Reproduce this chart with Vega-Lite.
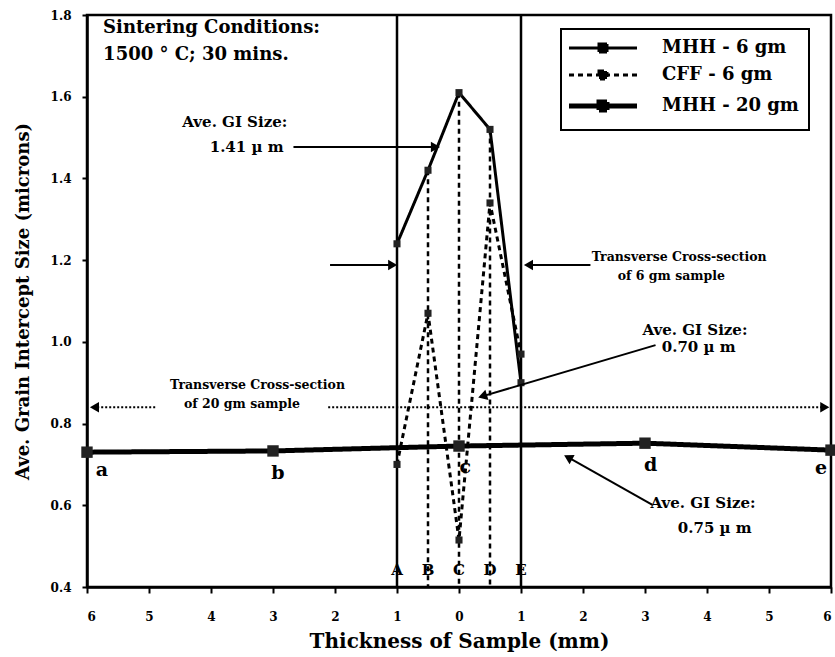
{
  "$schema": "https://vega.github.io/schema/vega-lite/v6.json",
  "width": 744,
  "height": 572,
  "autosize": {"type": "none"},
  "padding": {"left": 87, "top": 15, "right": 4, "bottom": 70},
  "background": "white",
  "config": {
    "view": {"stroke": "black", "strokeWidth": 2.5},
    "font": "DejaVu Serif",
    "legend": {"strokeWidth": 2}
  },
  "datasets": {
    "series": [
      {"series": "MHH - 6 gm", "x": -1, "y": 1.24},
      {"series": "MHH - 6 gm", "x": -0.5, "y": 1.42},
      {"series": "MHH - 6 gm", "x": 0, "y": 1.61},
      {"series": "MHH - 6 gm", "x": 0.5, "y": 1.52},
      {"series": "MHH - 6 gm", "x": 1, "y": 0.9},
      {"series": "CFF - 6 gm", "x": -1, "y": 0.7},
      {"series": "CFF - 6 gm", "x": -0.5, "y": 1.07},
      {"series": "CFF - 6 gm", "x": 0, "y": 0.515},
      {"series": "CFF - 6 gm", "x": 0.5, "y": 1.34},
      {"series": "CFF - 6 gm", "x": 1, "y": 0.97},
      {"series": "MHH - 20 gm", "x": -6, "y": 0.73},
      {"series": "MHH - 20 gm", "x": -3, "y": 0.733},
      {"series": "MHH - 20 gm", "x": 0, "y": 0.745},
      {"series": "MHH - 20 gm", "x": 3, "y": 0.752},
      {"series": "MHH - 20 gm", "x": 6, "y": 0.735}
    ],
    "bounds": [{"x": -1, "y": 1.8}, {"x": 1, "y": 1.8}],
    "drops": [{"x": -0.5, "y": 1.42}, {"x": 0, "y": 1.61}, {"x": 0.5, "y": 1.52}],
    "bigText": [
      {"x": -5.74, "y": 1.768, "t": "Sintering Conditions:"},
      {"x": -5.74, "y": 1.702, "t": "1500 ° C; 30 mins."}
    ],
    "aveRight": [
      {"x": -2.77, "y": 1.538, "t": "Ave. GI Size:"},
      {"x": -2.83, "y": 1.477, "t": "1.41 µ m"}
    ],
    "aveLeft": [
      {"x": 2.96, "y": 1.029, "t": "Ave. GI Size:"},
      {"x": 3.27, "y": 0.987, "t": "0.70 µ m"},
      {"x": 3.09, "y": 0.606, "t": "Ave. GI Size:"},
      {"x": 3.53, "y": 0.544, "t": "0.75 µ m"}
    ],
    "smallLeft": [
      {"x": 2.14, "y": 1.208, "t": "Transverse Cross-section"},
      {"x": 2.56, "y": 1.161, "t": "of 6 gm sample"}
    ],
    "smallCenter": [
      {"x": -3.25, "y": 0.894, "t": "Transverse Cross-section"},
      {"x": -3.5, "y": 0.848, "t": "of 20 gm sample"}
    ],
    "lower": [
      {"x": -5.76, "y": 0.686, "t": "a"},
      {"x": -2.92, "y": 0.679, "t": "b"},
      {"x": 0.1, "y": 0.694, "t": "c"},
      {"x": 3.09, "y": 0.699, "t": "d"},
      {"x": 5.84, "y": 0.691, "t": "e"}
    ],
    "upper": [
      {"x": -1, "y": 0.442, "t": "A"},
      {"x": -0.5, "y": 0.442, "t": "B"},
      {"x": 0, "y": 0.442, "t": "C"},
      {"x": 0.5, "y": 0.442, "t": "D"},
      {"x": 1, "y": 0.442, "t": "E"}
    ],
    "solidArrows": [
      {"x": -2.67, "y": 1.477, "x2": -0.35, "y2": 1.477},
      {"x": -2.08, "y": 1.188, "x2": -1.05, "y2": 1.188},
      {"x": 2.12, "y": 1.188, "x2": 1.1, "y2": 1.188},
      {"x": 3.17, "y": 0.992, "x2": 0.36, "y2": 0.866},
      {"x": 3.12, "y": 0.601, "x2": 1.74, "y2": 0.719}
    ],
    "dottedArrows": [
      {"x": -4.9, "y": 0.84, "x2": -5.9, "y2": 0.84},
      {"x": -2.11, "y": 0.84, "x2": 5.9, "y2": 0.84}
    ],
    "headsRight": [
      {"x": -0.38, "y": 1.477},
      {"x": -1.07, "y": 1.188},
      {"x": 5.9, "y": 0.84}
    ],
    "headsLeft": [
      {"x": 1.12, "y": 1.188},
      {"x": -5.88, "y": 0.84}
    ],
    "head070": [{"x": 0.38, "y": 0.867}],
    "head075": [{"x": 1.76, "y": 0.717}]
  },
  "encoding": {
    "x": {
      "field": "x", "type": "quantitative",
      "scale": {"domain": [-6, 6], "nice": false},
      "axis": {
        "title": "Thickness of Sample (mm)",
        "values": [-6, -5, -4, -3, -2, -1, 0, 1, 2, 3, 4, 5, 6],
        "labelExpr": "abs(datum.value)",
        "grid": false,
        "tickSize": 6, "tickWidth": 2, "tickColor": "black",
        "domainColor": "black", "domainWidth": 2.5,
        "labelFont": "DejaVu Serif", "labelFontWeight": "bold", "labelFontSize": 12, "labelColor": "black", "labelPadding": 18,
        "titleFont": "DejaVu Serif", "titleFontWeight": "bold", "titleFontSize": 20, "titleColor": "black", "titlePadding": 9
      }
    },
    "y": {
      "field": "y", "type": "quantitative",
      "scale": {"domain": [0.4, 1.8], "nice": false, "zero": false},
      "axis": {
        "title": "Ave. Grain Intercept Size (microns)",
        "values": [0.4, 0.6, 0.8, 1.0, 1.2, 1.4, 1.6, 1.8],
        "format": ".1f",
        "grid": false,
        "tickSize": 5, "tickWidth": 2, "tickColor": "black",
        "domainColor": "black", "domainWidth": 2.5,
        "labelFont": "DejaVu Serif", "labelFontWeight": "bold", "labelFontSize": 12, "labelColor": "black", "labelPadding": 11,
        "titleFont": "DejaVu Serif", "titleFontWeight": "bold", "titleFontSize": 18, "titleColor": "black", "titlePadding": 18
      }
    }
  },
  "layer": [
    {
      "data": {"name": "bounds"},
      "mark": {"type": "rule", "color": "black", "strokeWidth": 2.5},
      "encoding": {
        "y2": {"datum": 0.4}
      }
    },
    {
      "data": {"name": "drops"},
      "mark": {"type": "rule", "color": "black", "strokeWidth": 2.5, "strokeDash": [5, 4]},
      "encoding": {
        "y2": {"datum": 0.4}
      }
    },
    {
      "data": {"name": "series"},
      "mark": {"type": "line", "color": "black"},
      "encoding": {
        "strokeDash": {
          "field": "series", "type": "nominal",
          "scale": {"domain": ["MHH - 6 gm", "CFF - 6 gm", "MHH - 20 gm"], "range": [[1, 0], [5, 4], [1, 0]]},
          "legend": {
            "title": null, "orient": "none", "legendX": 474, "legendY": 14,
            "strokeColor": "black", "padding": 10,
            "symbolType": "M-6.8,0H6.8M-0.8,-0.8H0.8V0.8H-0.8Z",
            "symbolSize": 100, "symbolOffset": 23, "symbolFillColor": "black", "symbolStrokeColor": "black",
            "labelOffset": 50, "labelFont": "DejaVu Serif", "labelFontWeight": "bold", "labelFontSize": 18, "labelColor": "black",
            "rowPadding": 7
          }
        },
        "strokeWidth": {
          "field": "series", "type": "ordinal",
          "scale": {"type": "ordinal", "domain": ["MHH - 6 gm", "CFF - 6 gm", "MHH - 20 gm"], "range": [3, 3, 5]},
          "legend": {
            "title": null, "orient": "none", "legendX": 474, "legendY": 14,
            "strokeColor": "black", "padding": 10,
            "symbolType": "M-6.8,0H6.8M-0.8,-0.8H0.8V0.8H-0.8Z",
            "symbolSize": 100, "symbolOffset": 23, "symbolFillColor": "black", "symbolStrokeColor": "black",
            "labelOffset": 50, "labelFont": "DejaVu Serif", "labelFontWeight": "bold", "labelFontSize": 18, "labelColor": "black",
            "rowPadding": 7
          }
        }
      }
    },
    {
      "data": {"name": "series"},
      "transform": [{"filter": "datum.series != 'MHH - 20 gm'"}],
      "mark": {"type": "point", "shape": "square", "filled": true, "color": "#222", "size": 50, "opacity": 1}
    },
    {
      "data": {"name": "series"},
      "transform": [{"filter": "datum.series == 'MHH - 20 gm'"}],
      "mark": {"type": "point", "shape": "square", "filled": true, "color": "#222", "size": 130, "opacity": 1}
    },
    {
      "data": {"name": "solidArrows"},
      "mark": {"type": "rule", "color": "black", "strokeWidth": 2},
      "encoding": {
        "x2": {"field": "x2"},
        "y2": {"field": "y2"}
      }
    },
    {
      "data": {"name": "dottedArrows"},
      "mark": {"type": "rule", "color": "black", "strokeWidth": 2, "strokeDash": [2, 2]},
      "encoding": {
        "x2": {"field": "x2"},
        "y2": {"field": "y2"}
      }
    },
    {
      "data": {"name": "headsRight"},
      "mark": {"type": "point", "shape": "triangle-right", "filled": true, "color": "black", "size": 110, "opacity": 1}
    },
    {
      "data": {"name": "headsLeft"},
      "mark": {"type": "point", "shape": "triangle-left", "filled": true, "color": "black", "size": 110, "opacity": 1}
    },
    {
      "data": {"name": "head070"},
      "mark": {"type": "point", "shape": "triangle-up", "filled": true, "color": "black", "size": 110, "opacity": 1, "angle": 253}
    },
    {
      "data": {"name": "head075"},
      "mark": {"type": "point", "shape": "triangle-up", "filled": true, "color": "black", "size": 110, "opacity": 1, "angle": 299}
    },
    {
      "data": {"name": "bigText"},
      "mark": {"type": "text", "align": "left", "baseline": "middle", "font": "DejaVu Serif", "fontWeight": "bold", "fontSize": 18, "color": "black"},
      "encoding": {"text": {"field": "t"}}
    },
    {
      "data": {"name": "aveRight"},
      "mark": {"type": "text", "align": "right", "baseline": "middle", "font": "DejaVu Serif", "fontWeight": "bold", "fontSize": 15, "color": "black"},
      "encoding": {"text": {"field": "t"}}
    },
    {
      "data": {"name": "aveLeft"},
      "mark": {"type": "text", "align": "left", "baseline": "middle", "font": "DejaVu Serif", "fontWeight": "bold", "fontSize": 15, "color": "black"},
      "encoding": {"text": {"field": "t"}}
    },
    {
      "data": {"name": "smallLeft"},
      "mark": {"type": "text", "align": "left", "baseline": "middle", "font": "DejaVu Serif", "fontWeight": "bold", "fontSize": 12.5, "color": "black"},
      "encoding": {"text": {"field": "t"}}
    },
    {
      "data": {"name": "smallCenter"},
      "mark": {"type": "text", "align": "center", "baseline": "middle", "font": "DejaVu Serif", "fontWeight": "bold", "fontSize": 12.5, "color": "black"},
      "encoding": {"text": {"field": "t"}}
    },
    {
      "data": {"name": "lower"},
      "mark": {"type": "text", "align": "center", "baseline": "middle", "font": "DejaVu Serif", "fontWeight": "bold", "fontSize": 19, "color": "black"},
      "encoding": {"text": {"field": "t"}}
    },
    {
      "data": {"name": "upper"},
      "mark": {"type": "text", "align": "center", "baseline": "middle", "font": "DejaVu Serif", "fontWeight": "bold", "fontSize": 15, "color": "black"},
      "encoding": {"text": {"field": "t"}}
    }
  ]
}
